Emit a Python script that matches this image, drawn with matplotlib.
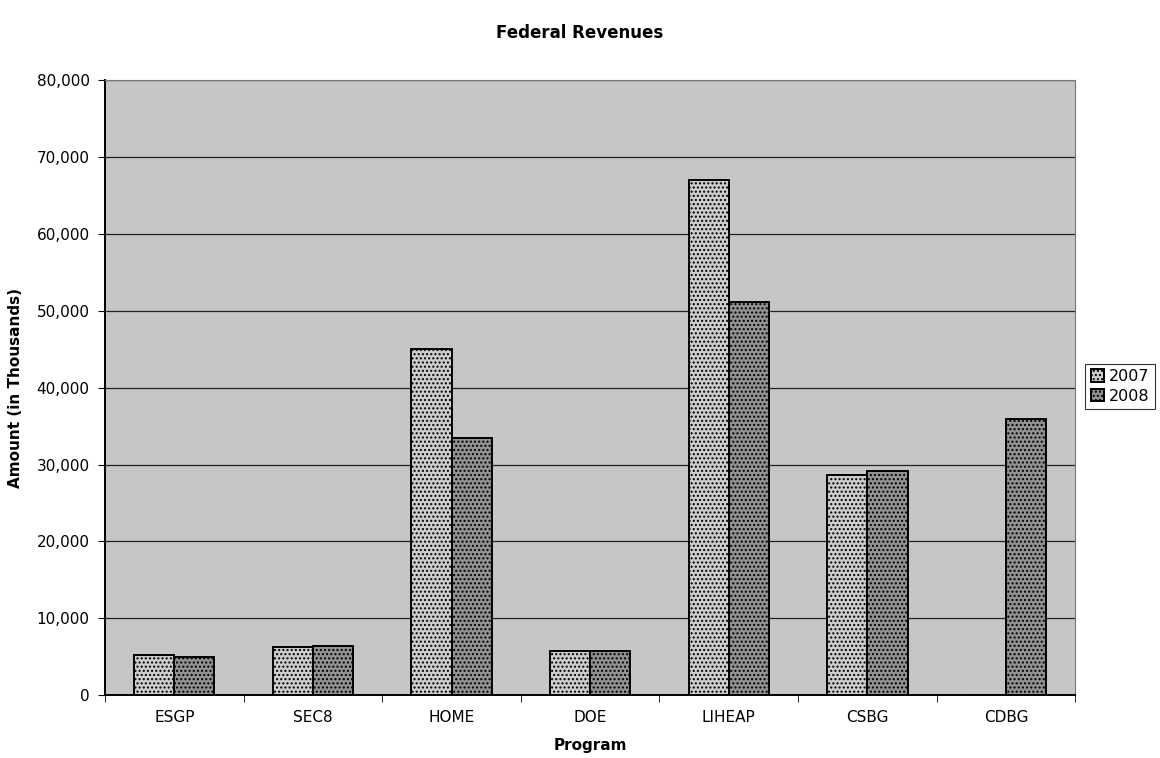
import matplotlib.pyplot as plt
import numpy as np

plt.rcParams['font.family'] = ['DejaVu Sans']
plt.rcParams['hatch.color'] = '#8a8a8a'

programs = ['ESGP', 'SEC8', 'HOME', 'DOE', 'LIHEAP', 'CSBG', 'CDBG']
rev_2007 = [5200, 6300, 45100, 5700, 67000, 28600, 0]
rev_2008 = [5000, 6400, 33500, 5700, 51100, 29200, 35900]

fig = plt.figure(figsize=(11.6, 7.58), dpi=100)
fig.patch.set_facecolor('white')
ax = fig.add_axes([0.0905, 0.083, 0.8365, 0.811])
ax.set_facecolor('#c6c6c6')

x = np.arange(len(programs))
w = 0.29
ax.bar(x - w / 2, rev_2007, w, color='#cdcdcd', edgecolor='black', linewidth=1.4,
       hatch='....', label='2007', zorder=3)
ax.bar(x + w / 2, rev_2008, w, color='#929292', edgecolor='black', linewidth=1.4,
       hatch='....', label='2008', zorder=3)

ax.set_xlim(-0.5, len(programs) - 0.5)
ax.set_ylim(0, 80000)
ax.set_yticks(np.arange(0, 80001, 10000))
ax.set_yticklabels([f'{v:,}' for v in range(0, 80001, 10000)], fontsize=11)
ax.set_xticks(x)
ax.set_xticklabels(programs, fontsize=11)
ax.set_xticks(np.arange(-0.5, len(programs), 1), minor=True)
ax.tick_params(axis='x', which='major', length=0, pad=11)
ax.tick_params(axis='x', which='minor', length=5, direction='out')
ax.tick_params(axis='y', length=5, direction='out', pad=6)
ax.yaxis.grid(True, color='#222222', linewidth=0.9, zorder=1)
ax.set_axisbelow(True)

for side in ['left', 'bottom']:
    ax.spines[side].set_color('black')
    ax.spines[side].set_linewidth(1.4)
for side in ['top', 'right']:
    ax.spines[side].set_color('#777777')
    ax.spines[side].set_linewidth(0.8)

ax.set_ylabel('Amount (in Thousands)', fontsize=11, fontweight='bold', labelpad=10)
ax.set_xlabel('Program', fontsize=11, fontweight='bold', labelpad=9)
fig.suptitle('Federal Revenues', fontsize=12, fontweight='bold', y=0.968)

leg = ax.legend(loc='center left', bbox_to_anchor=(1.002, 0.502), fontsize=11.5,
                frameon=True, fancybox=False, edgecolor='black', handlelength=0.8,
                handleheight=0.8, handletextpad=0.3, borderpad=0.35, labelspacing=0.3)
leg.get_frame().set_linewidth(0.8)

fig.savefig('out.png', dpi=100, facecolor='white')
